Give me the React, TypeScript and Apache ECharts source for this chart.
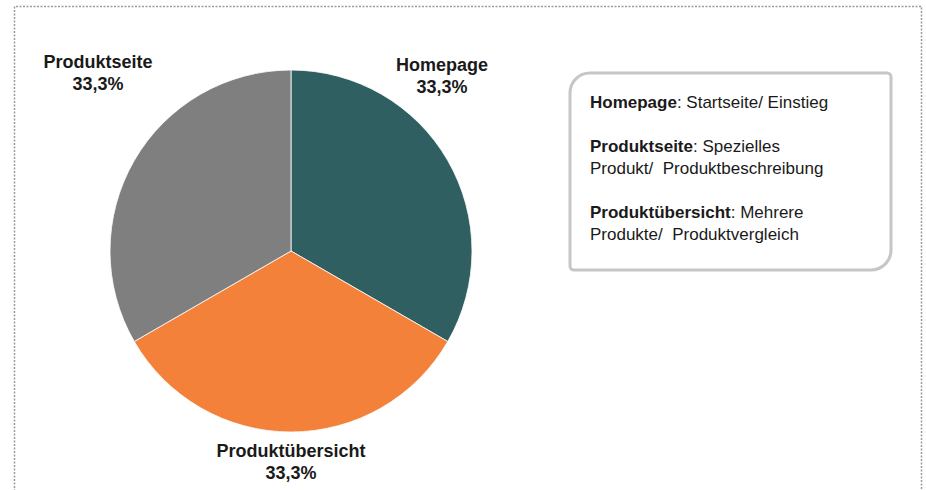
import React, { useEffect, useRef } from "react";
import * as echarts from "echarts";

const categories = ["Homepage", "Produktübersicht", "Produktseite"];
const values = [33.3, 33.3, 33.3];
const percentLabels = ["33,3%", "33,3%", "33,3%"];
const colors = ["#2F5F61", "#F3813A", "#7F7F7F"];
const legendTerms = ["Homepage", "Produktseite", "Produktübersicht"];
const legendDescriptions = [
  "Startseite/ Einstieg",
  "Spezielles\nProdukt/  Produktbeschreibung",
  "Mehrere\nProdukte/  Produktvergleich",
];

const labelPositions: Record<string, [number, number]> = {
  Homepage: [442, 76],
  Produktübersicht: [291, 462],
  Produktseite: [98, 73],
};

const FONT = "Liberation Sans, Arial, sans-serif";

export default function App() {
  const ref = useRef<HTMLDivElement>(null);
  useEffect(() => {
    if (!ref.current) return;
    const chart = echarts.init(ref.current, null, { renderer: "svg" });
    const legendText = legendTerms
      .map((t, i) => `{b|${t}}: ${legendDescriptions[i]}`)
      .join("\n\n");
    chart.setOption({
      animation: false,
      backgroundColor: "#ffffff",
      textStyle: { fontFamily: FONT },
      series: [
        {
          type: "pie",
          center: [291, 251],
          radius: 181,
          startAngle: 90,
          clockwise: true,
          itemStyle: { borderColor: "#ffffff", borderWidth: 0.8 },
          emphasis: { disabled: true },
          labelLine: { show: false },
          label: {
            show: true,
            position: "outside",
            overflow: "none",
            edgeDistance: 0,
            formatter: (p: any) => `${p.name}\n${percentLabels[p.dataIndex]}`,
            fontFamily: FONT,
            fontWeight: "bold",
            fontSize: 18,
            lineHeight: 22,
            color: "#1a1a1a",
            align: "center",
          },
          labelLayout: (p: any) => {
            const pos = labelPositions[categories[p.dataIndex]];
            return { x: pos[0], y: pos[1], align: "center", verticalAlign: "middle" };
          },
          data: categories.map((c, i) => ({
            name: c,
            value: values[i],
            itemStyle: { color: colors[i] },
          })),
        },
      ],
      graphic: [
        {
          type: "polyline",
          shape: { points: [[14.5, 495], [14.5, 6.5], [921.5, 6.5], [921.5, 495]] },
          style: { fill: "none", stroke: "#9a9a9a", lineWidth: 1.5, lineDash: [2, 1.5] },
          silent: true,
        },
        {
          type: "rect",
          shape: { x: 570, y: 73, width: 321, height: 197, r: [20, 4, 20, 4] },
          style: { fill: "#ffffff", stroke: "#C6C6C6", lineWidth: 3 },
          silent: true,
        },
        {
          type: "text",
          x: 590,
          y: 91,
          style: {
            text: legendText,
            fontFamily: FONT,
            fontSize: 17,
            lineHeight: 22,
            fill: "#1a1a1a",
            rich: {
              b: {
                fontFamily: FONT,
                fontWeight: "bold",
                fontSize: 17,
                lineHeight: 22,
                fill: "#1a1a1a",
              },
            },
          },
          silent: true,
        },
      ],
    });
    return () => chart.dispose();
  }, []);
  return (
    <div
      ref={ref}
      style={{ position: "fixed", left: 0, top: 0, width: 926, height: 490 }}
    />
  );
}
